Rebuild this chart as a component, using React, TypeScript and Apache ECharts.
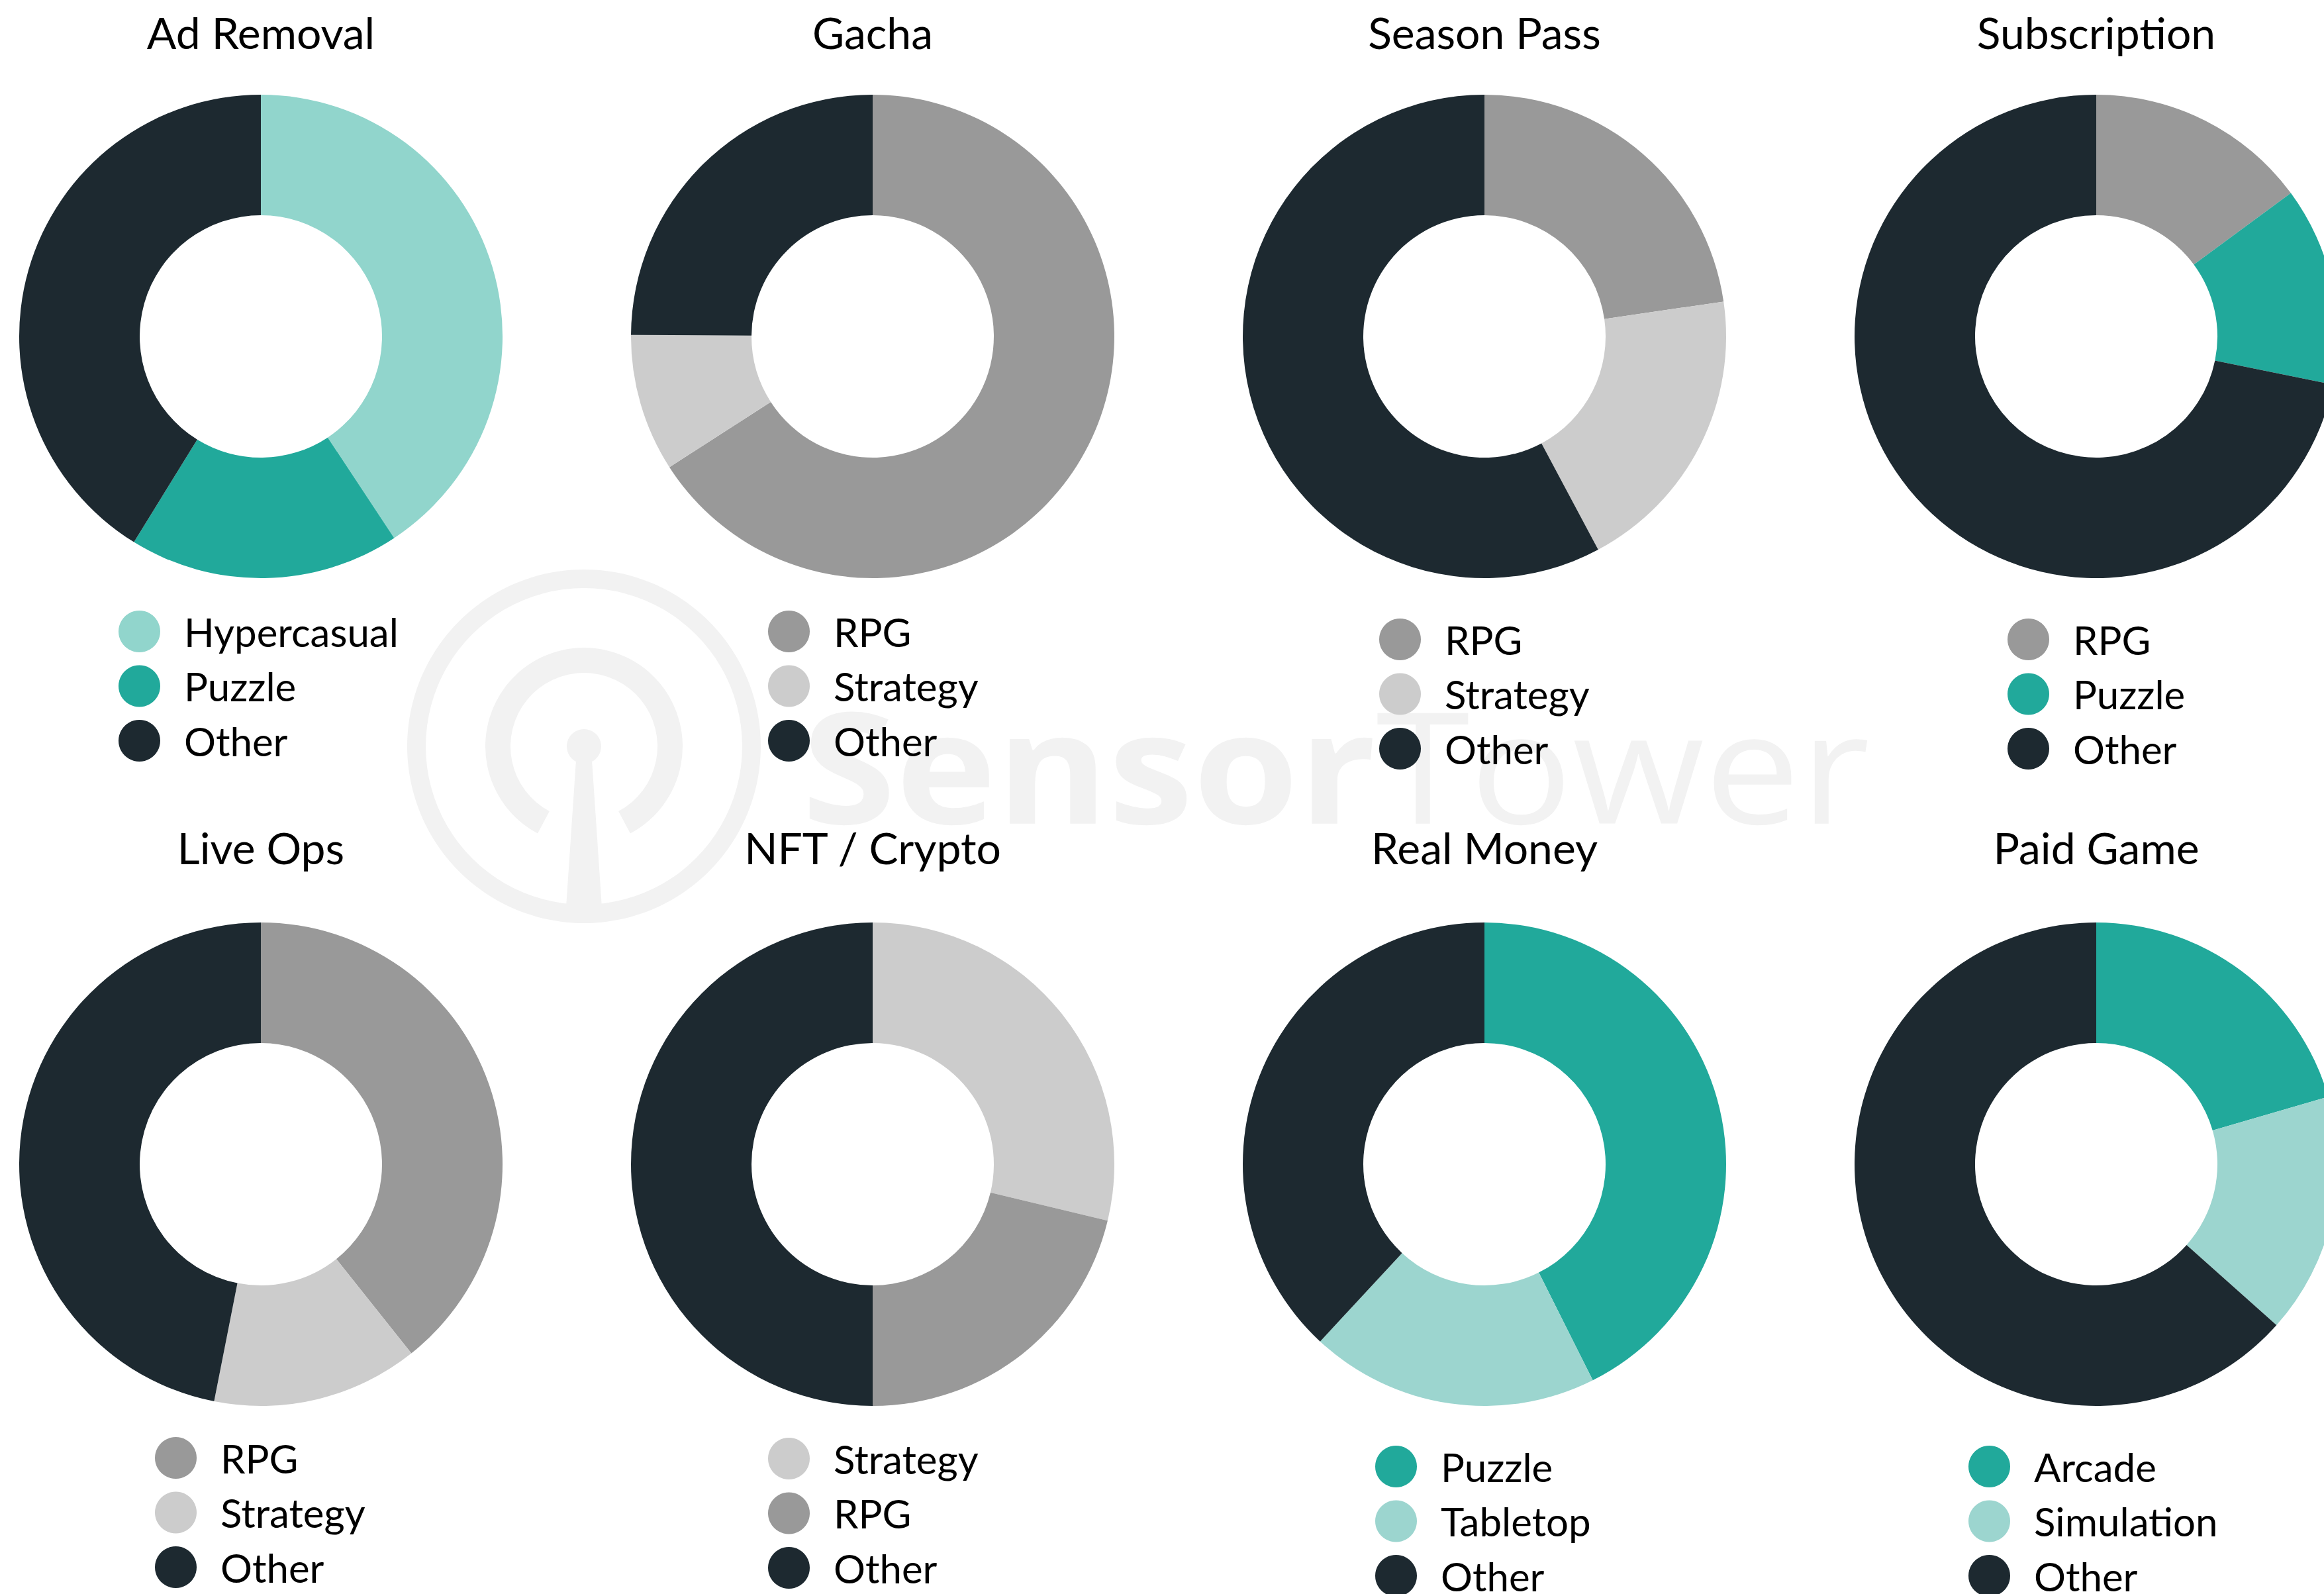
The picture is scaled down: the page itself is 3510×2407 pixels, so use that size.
import React, { useEffect, useRef } from 'react';
import * as echarts from 'echarts';

// ---- Data ----
const chartTitles = ['Ad Removal', 'Gacha', 'Season Pass', 'Subscription', 'Live Ops', 'NFT / Crypto', 'Real Money', 'Paid Game'];

const adRemovalNames = ['Hypercasual', 'Puzzle', 'Other'];
const adRemovalValues = [40.7, 18.1, 41.2];

const gachaNames = ['RPG', 'Strategy', 'Other'];
const gachaValues = [65.9, 9.2, 24.9];

const seasonPassNames = ['RPG', 'Strategy', 'Other'];
const seasonPassValues = [22.7, 19.5, 57.8];

const subscriptionNames = ['RPG', 'Puzzle', 'Other'];
const subscriptionValues = [14.9, 13.3, 71.8];

const liveOpsNames = ['RPG', 'Strategy', 'Other'];
const liveOpsValues = [39.3, 13.8, 46.9];

const nftCryptoNames = ['Strategy', 'RPG', 'Other'];
const nftCryptoValues = [28.75, 21.25, 50];

const realMoneyNames = ['Puzzle', 'Tabletop', 'Other'];
const realMoneyValues = [42.6, 19.3, 38.1];

const paidGameNames = ['Arcade', 'Simulation', 'Other'];
const paidGameValues = [20.5, 16.1, 63.4];

const categoryColors: Record<string, string> = {
  Hypercasual: '#91d5cc',
  Puzzle: '#21a99b',
  Other: '#1d2930',
  RPG: '#999999',
  Strategy: '#cccccc',
  Tabletop: '#9cd5cf',
  Arcade: '#21a99b',
  Simulation: '#9cd5cf',
};

const FONT = 'Lato, "Noto Sans", sans-serif';
const WM_FONT = '"Open Sans", Lato, sans-serif';

export default function App() {
  const ref = useRef<HTMLDivElement>(null);

  useEffect(() => {
    if (!ref.current) return;
    const chart = echarts.init(ref.current, null, { renderer: 'svg' });

    const panelNames = [adRemovalNames, gachaNames, seasonPassNames, subscriptionNames, liveOpsNames, nftCryptoNames, realMoneyNames, paidGameNames];
    const panelValues = [adRemovalValues, gachaValues, seasonPassValues, subscriptionValues, liveOpsValues, nftCryptoValues, realMoneyValues, paidGameValues];

    const colX = [394, 1318, 2242, 3166];
    const rowY = [508, 1758];
    const titleY = [48, 1279];
    const legendPos: [number, number][] = [
      [179, 922], [1160, 922], [2083, 934], [3032, 934],
      [234, 2170], [1160, 2171], [2077, 2183], [2973, 2183],
    ];

    const series: any[] = [];
    const legends: any[] = [];
    const graphics: any[] = [];

    // watermark
    let wmScale = 1.1;
    try {
      const ctx = document.createElement('canvas').getContext('2d');
      if (ctx) {
        ctx.font = 'bold 234px "Open Sans"';
        const wB = ctx.measureText('Sensor').width;
        ctx.font = '234px "Open Sans"';
        const wR = ctx.measureText('Tower').width;
        if (wB + wR > 0) wmScale = 1613 / (wB + wR);
      }
    } catch (e) { /* ignore */ }

    const wm = '#f2f2f2';
    graphics.push({
      type: 'group',
      silent: true,
      z: -10,
      children: [
        { type: 'ring', shape: { cx: 882, cy: 1127, r: 267, r0: 239 }, style: { fill: wm } },
        {
          type: 'sector',
          shape: { cx: 882, cy: 1127, r0: 111, r: 149, startAngle: Math.PI / 2 + (28 * Math.PI) / 180, endAngle: Math.PI / 2 + (332 * Math.PI) / 180, clockwise: true },
          style: { fill: wm },
        },
        { type: 'circle', shape: { cx: 882, cy: 1127, r: 26 }, style: { fill: wm } },
        { type: 'polygon', shape: { points: [[870, 1148], [894, 1148], [909, 1370], [855, 1370]] }, style: { fill: wm } },
        {
          type: 'text',
          x: 1211,
          y: 1153,
          scaleX: wmScale,
          style: {
            text: '{b|Sensor}{r|Tower}',
            align: 'left',
            verticalAlign: 'middle',
            rich: {
              b: { fontFamily: WM_FONT, fontSize: 234, fontWeight: 'bold', fill: wm },
              r: { fontFamily: WM_FONT, fontSize: 234, fontWeight: 'normal', fill: wm },
            },
          },
        },
      ],
    });

    for (let i = 0; i < 8; i++) {
      const cx = colX[i % 4];
      const row = Math.floor(i / 4);
      const cy = rowY[row];
      const names = panelNames[i];
      const values = panelValues[i];
      series.push({
        type: 'pie',
        name: chartTitles[i],
        center: [cx, cy],
        radius: [183, 365],
        startAngle: 90,
        clockwise: true,
        label: { show: false },
        labelLine: { show: false },
        emphasis: { disabled: true },
        silent: true,
        data: names.map((n, k) => ({ name: n, value: values[k], itemStyle: { color: categoryColors[n] } })),
      });
      legends.push({
        orient: 'vertical',
        left: legendPos[i][0],
        top: legendPos[i][1],
        width: 500,
        height: 400,
        padding: 0,
        itemWidth: 63,
        itemHeight: 63,
        itemGap: 19.5,
        icon: 'circle',
        selectedMode: false,
        data: names,
        textStyle: { fontFamily: FONT, fontSize: 60, color: '#000000', padding: [0, 0, 0, 31] },
      });
      graphics.push({
        type: 'text',
        x: cx,
        y: titleY[row],
        style: {
          text: chartTitles[i],
          align: 'center',
          verticalAlign: 'middle',
          fontFamily: FONT,
          fontSize: 66,
          fill: '#000000',
        },
      });
    }

    chart.setOption({
      animation: false,
      backgroundColor: '#ffffff',
      legend: legends,
      graphic: graphics,
      series,
    });

    return () => chart.dispose();
  }, []);

  return <div ref={ref} style={{ position: 'fixed', left: 0, top: 0, width: 3510, height: 2407, background: '#ffffff' }} />;
}
